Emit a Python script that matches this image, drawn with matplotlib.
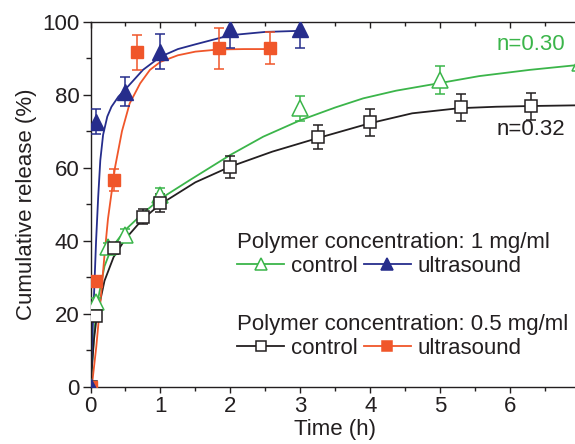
import matplotlib
matplotlib.use('Agg')
import matplotlib.pyplot as plt
from matplotlib.lines import Line2D
from matplotlib.ticker import MultipleLocator

plt.rcParams['font.family'] = ['Liberation Sans', 'DejaVu Sans']
plt.rcParams['font.size'] = 16

# colours
c_green = '#3bb54a'
c_blue = '#262d8c'
c_red = '#f0562a'
c_black = '#231f20'

# measured points (time in h, cumulative release in %)
t_blue = [0, 0.083, 0.5, 1.0, 2.0, 3.0]
v_blue = [0, 72.6, 80.8, 91.8, 97.9, 97.9]
e_blue = [0, 3.5, 4.0, 4.7, 5.2, 5.2]

t_red = [0, 0.083, 0.34, 0.66, 1.84, 2.56]
v_red = [0, 29.0, 56.6, 91.6, 92.7, 92.7]
e_red = [0, 0.0, 3.0, 4.8, 5.6, 4.4]

t_green = [0, 0.083, 0.25, 0.5, 1.0, 3.0, 5.0, 7.0]
v_green = [0, 23.3, 38.4, 41.6, 52.5, 76.3, 84.0, 88.6]
e_green = [0, 1.0, 1.0, 1.5, 2.0, 3.4, 3.9, 4.0]

t_black = [0, 0.083, 0.33, 0.75, 1.0, 2.0, 3.25, 4.0, 5.3, 6.3]
v_black = [0, 19.4, 37.9, 46.6, 50.4, 60.3, 68.5, 72.4, 76.5, 76.9]
e_black = [0, 1.0, 1.5, 2.0, 2.5, 3.0, 3.3, 3.6, 3.6, 3.7]

# fitted curves
ft_blue = [0, 0.04, 0.08, 0.11, 0.14, 0.18, 0.24, 0.3, 0.4, 0.5, 0.75, 1.0, 1.25, 1.5, 2.0, 2.5, 3.0]
fv_blue = [0, 20, 40, 52, 62, 69, 74, 76.7, 79.5, 81.5, 86.8, 90.4, 92.5, 93.8, 96.3, 97.2, 97.5]

ft_red = [0, 0.03, 0.083, 0.15, 0.2, 0.25, 0.3, 0.35, 0.45, 0.56, 0.71, 0.85, 1.0, 1.25, 1.5, 1.84, 2.2, 2.56]
fv_red = [0, 2, 11, 25, 36, 46, 53, 60, 70, 77.6, 83.1, 86.8, 89, 90.8, 91.8, 92.4, 92.5, 92.5]

ft_green = [0, 0.05, 0.088, 0.2, 0.3, 0.5, 0.75, 1.0, 1.42, 2.0, 2.47, 3.0, 3.5, 3.9, 4.37, 4.97, 5.56, 6.28, 6.9, 7.0]
fv_green = [0, 14, 22, 33, 38, 43, 47.5, 51.5, 56.6, 63.5, 68.5, 73, 76.5, 79, 81.1, 83.1, 85.1, 86.8, 88, 88.2]

ft_black = [0, 0.05, 0.088, 0.2, 0.33, 0.5, 0.75, 1.0, 1.5, 2.0, 2.6, 3.23, 4.0, 4.6, 5.27, 5.8, 6.3, 7.0]
fv_black = [0, 13, 19, 29, 35.5, 40.5, 46, 50, 56, 60.3, 64.4, 68, 72.2, 74.9, 76.3, 76.7, 76.9, 77.1]

fig = plt.figure(figsize=(5.75, 4.44), dpi=100)
ax = fig.add_axes([90.5 / 575, (444 - 386.7) / 444, (580 - 90.5) / 575, (386.7 - 21.7) / 444])

# fitted curves
ax.plot(ft_green, fv_green, color=c_green, lw=1.3, zorder=2)
ax.plot(ft_black, fv_black, color=c_black, lw=1.3, zorder=2)
ax.plot(ft_red, fv_red, color=c_red, lw=1.3, zorder=2)
ax.plot(ft_blue, fv_blue, color=c_blue, lw=1.3, zorder=2)

# data with error bars
eb = dict(ls='none', elinewidth=1.1, capsize=3.5, capthick=1.1, zorder=3)
ax.errorbar(t_green, v_green, yerr=e_green, marker='^', ms=11, mfc='white', mec=c_green,
            mew=1.1, color=c_green, **eb)
ax.errorbar(t_black, v_black, yerr=e_black, marker='s', ms=9, mfc='white', mec=c_black,
            mew=1.1, color=c_black, **eb)
ax.errorbar(t_red, v_red, yerr=e_red, marker='s', ms=9, mfc=c_red, mec=c_red,
            color=c_red, **eb)
ax.errorbar(t_blue, v_blue, yerr=e_blue, marker='^', ms=11, mfc=c_blue, mec=c_blue,
            color=c_blue, **eb)

ax.text(5.8, 93.8, 'n=0.30', color=c_green, ha='left', va='center', fontsize=16)
ax.text(5.8, 70.6, 'n=0.32', color=c_black, ha='left', va='center', fontsize=16)

ax.set_xlim(0, 7)
ax.set_ylim(0, 100)
ax.xaxis.set_major_locator(MultipleLocator(1))
ax.xaxis.set_minor_locator(MultipleLocator(0.5))
ax.yaxis.set_major_locator(MultipleLocator(20))
ax.yaxis.set_minor_locator(MultipleLocator(10))
ax.tick_params(which='both', direction='out', colors=c_black, labelcolor=c_black, width=1)
ax.tick_params(which='major', length=6, labelsize=16, pad=2)
ax.tick_params(which='minor', length=3.5)
ax.tick_params(axis='x', which='both', top=True)
ax.tick_params(axis='x', which='major', length=4, pad=3)
ax.tick_params(axis='x', which='minor', length=3)
for sp in ax.spines.values():
    sp.set_color(c_black)
    sp.set_linewidth(1)
# top ticks point inward
for tk in ax.xaxis.get_major_ticks() + ax.xaxis.get_minor_ticks():
    tk.tick2line.set_marker(matplotlib.lines.TICKDOWN)

ax.set_xlabel('Time (h)', fontsize=16, color=c_black, labelpad=1)
ax.set_ylabel('Cumulative release (%)', fontsize=16, color=c_black, labelpad=4)

# legends
def handle(col, mk, face, ms):
    return Line2D([], [], color=col, lw=1.3, marker=mk, ms=ms, mfc=face, mec=col, mew=1.1)

leg_kw = dict(ncol=2, frameon=False, loc='upper left', fontsize=16, title_fontsize=16,
              handlelength=2.1, handletextpad=0.3, columnspacing=0.3, borderpad=0,
              borderaxespad=0, labelspacing=0.15, alignment='left', labelcolor=c_black)
leg1 = ax.legend([handle(c_green, '^', 'white', 9), handle(c_blue, '^', c_blue, 9)],
                 ['control', 'ultrasound'], title='Polymer concentration: 1 mg/ml',
                 bbox_to_anchor=(0.3, 0.425), **leg_kw)
leg1.get_title().set_color(c_black)
ax.add_artist(leg1)
leg2 = ax.legend([handle(c_black, 's', 'white', 7), handle(c_red, 's', c_red, 7)],
                 ['control', 'ultrasound'], title='Polymer concentration: 0.5 mg/ml',
                 bbox_to_anchor=(0.3, 0.2), **leg_kw)
leg2.get_title().set_color(c_black)

fig.savefig('out.png', dpi=100)
